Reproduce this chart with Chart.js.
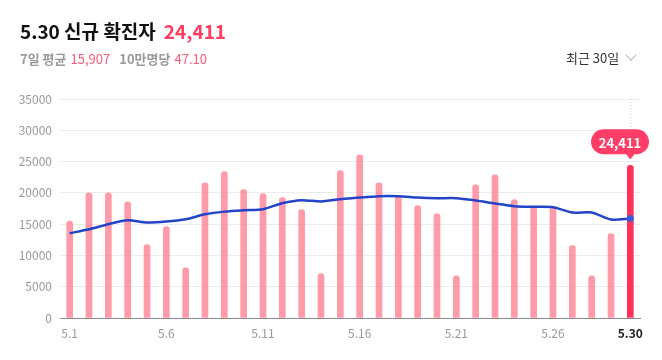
<!DOCTYPE html>
<html>
<head>
<meta charset="utf-8">
<script src="https://cdn.jsdelivr.net/npm/chart.js@4"></script>
<style>
  body { margin: 0; background: #fff; font-family: 'Noto Sans CJK KR', 'Noto Sans', sans-serif; }
  #wrap { position: relative; width: 662px; height: 360px; overflow: hidden; }
  #chart { position: absolute; left: 0; top: 0; }
  .title { position: absolute; left: 20px; top: 17px; font-size: 19px; font-weight: 700; color: #111; line-height: 28px; white-space: nowrap; }
  .title .num { color: #ff3d5f; margin-left: 8px; }
  .sub { position: absolute; left: 20px; top: 50px; font-size: 13px; line-height: 18px; white-space: nowrap; }
  .sub .k { color: #999; font-weight: 700; }
  .sub .v { color: #ff5878; margin-left: 4px; margin-right: 9px; }
  .range { position: absolute; left: 566px; top: 48px; font-size: 13px; color: #333; line-height: 20px; white-space: nowrap; }
  .range .chev { display: inline-block; width: 7px; height: 7px; border-right: 1.3px solid #bbb; border-bottom: 1.3px solid #bbb; transform: rotate(45deg); margin-left: 8px; position: relative; top: -4px; }
</style>
</head>
<body>
<div id="wrap">
  <canvas id="chart" width="662" height="360"></canvas>
  <div class="title">5.30 신규 확진자<span class="num">24,411</span></div>
  <div class="sub"><span class="k">7일 평균</span><span class="v">15,907</span><span class="k">10만명당</span><span class="v">47.10</span></div>
  <div class="range">최근 30일<span class="chev"></span></div>
</div>
<script>
// ── Data ────────────────────────────────────
const DAYS = ['5.1', '5.2', '5.3', '5.4', '5.5', '5.6', '5.7', '5.8', '5.9', '5.10',
    '5.11', '5.12', '5.13', '5.14', '5.15', '5.16', '5.17', '5.18', '5.19', '5.20',
    '5.21', '5.22', '5.23', '5.24', '5.25', '5.26', '5.27', '5.28', '5.29', '5.30'];

const DAILY_CASES = [15500, 20000, 20000, 18570, 11740, 14620, 8000, 21610, 23420, 20540,
    19900, 19260, 17340, 7100, 23580, 26090, 21610, 19530, 17980, 16650,
    6720, 21290, 22890, 18940, 17820, 17660, 11580, 6720, 13500, 24411];

const AVG_7DAY = [13550, 14190, 14990, 15630, 15260, 15420, 15790, 16570, 17000, 17230,
    17390, 18350, 18830, 18620, 18990, 19260, 19470, 19470, 19260, 19150,
    19150, 18780, 18300, 17870, 17770, 17710, 16860, 16860, 15740, 15907];

const SHOWN_TICKS = [0, 5, 10, 15, 20, 25, 29];

const FONT = "'Noto Sans CJK KR', 'Noto Sans', sans-serif";
const BAR_COLOR = 'rgba(255,120,140,0.75)';
const LAST_COLOR = '#ff3358';
const LINE_COLOR = '#2343c9';

const last = DAILY_CASES.length - 1;

// ── Bubble over the latest bar ──────────────
const latestBubble = {
    id: 'latestBubble',
    afterDatasetsDraw(chart) {
        const { ctx, scales: { x, y }, chartArea } = chart;
        const px = x.getPixelForValue(last);
        const barTop = y.getPixelForValue(DAILY_CASES[last]);
        const h = 25, w = 58;
        const tipY = barTop - 6;
        const boxBottom = tipY - 5;
        const boxTop = boxBottom - h;
        let cx = Math.min(px, chart.width - 13 - w / 2);

        ctx.save();
        // dotted guide
        ctx.strokeStyle = '#ccc';
        ctx.lineWidth = 1;
        ctx.setLineDash([1, 2]);
        ctx.beginPath();
        ctx.moveTo(px + 0.5, chartArea.top);
        ctx.lineTo(px + 0.5, boxTop);
        ctx.stroke();
        ctx.setLineDash([]);

        // pill
        ctx.fillStyle = '#ff3d66';
        ctx.beginPath();
        ctx.roundRect(cx - w / 2, boxTop, w, h, h / 2);
        ctx.fill();
        ctx.beginPath();
        ctx.moveTo(px - 5, boxBottom - 1);
        ctx.lineTo(px + 5, boxBottom - 1);
        ctx.lineTo(px, tipY);
        ctx.closePath();
        ctx.fill();

        ctx.fillStyle = '#fff';
        ctx.font = `bold 13px ${FONT}`;
        ctx.textAlign = 'center';
        ctx.textBaseline = 'middle';
        ctx.fillText(DAILY_CASES[last].toLocaleString('en-US'), cx, boxTop + h / 2 + 1);
        ctx.restore();
    }
};

new Chart(document.getElementById('chart'), {
    data: {
        labels: DAYS,
        datasets: [
            {
                type: 'line',
                label: '7일 평균',
                data: AVG_7DAY,
                borderColor: LINE_COLOR,
                borderWidth: 2.5,
                tension: 0.25,
                pointRadius: ctx => (ctx.dataIndex === last ? 3.5 : 0),
                pointBackgroundColor: '#3b5bdb',
                pointBorderWidth: 0,
                order: 0,
            },
            {
                type: 'bar',
                label: '신규 확진자',
                data: DAILY_CASES,
                backgroundColor: DAILY_CASES.map((_, i) => (i === last ? LAST_COLOR : BAR_COLOR)),
                barThickness: 6,
                borderRadius: 3,
                borderSkipped: 'start',
                order: 1,
            },
        ],
    },
    options: {
        responsive: false,
        animation: false,
        layout: { padding: { top: 99, right: 22, bottom: 0, left: 0 } },
        plugins: { legend: { display: false }, tooltip: { enabled: false } },
        scales: {
            x: {
                offset: true,
                grid: { display: false, drawTicks: false },
                border: { color: '#888', width: 1 },
                afterFit: s => { s.height = 42; },
                ticks: {
                    autoSkip: false,
                    maxRotation: 0,
                    padding: 8,
                    callback: (v, i) => (SHOWN_TICKS.includes(i) ? DAYS[i] : ''),
                    color: ctx => (ctx.index === last ? '#222' : '#999'),
                    font: ctx => ({ family: FONT, size: 12, weight: ctx.index === last ? 'bold' : 'normal' }),
                },
            },
            y: {
                min: 0,
                max: 35000,
                afterFit: s => { s.width = 60; },
                grid: { color: '#ececec', drawTicks: false },
                border: { display: false },
                ticks: {
                    stepSize: 5000,
                    padding: 8,
                    color: '#999',
                    font: { family: FONT, size: 12 },
                    callback: v => String(v),
                },
            },
        },
    },
    plugins: [latestBubble],
});
</script>
</body>
</html>
